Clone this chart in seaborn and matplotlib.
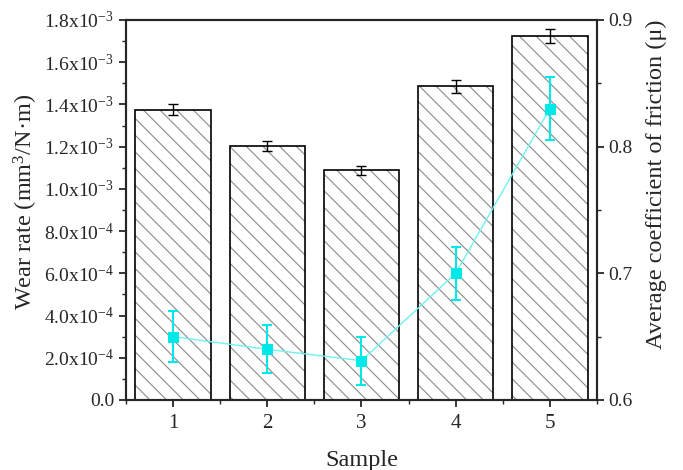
import math
import pandas as pd
import matplotlib
matplotlib.use("Agg")
import matplotlib.pyplot as plt
from matplotlib.ticker import MultipleLocator, FuncFormatter
import seaborn as sns

# values
samples = [1, 2, 3, 4, 5]
wear_rate = [1.375e-3, 1.203e-3, 1.088e-3, 1.486e-3, 1.723e-3]
wear_err = [0.027e-3, 0.024e-3, 0.021e-3, 0.031e-3, 0.033e-3]
cof = [0.650, 0.640, 0.631, 0.700, 0.830]
cof_err = [0.020, 0.019, 0.019, 0.021, 0.025]

SERIF = 'Liberation Serif'


def sci_formatter(v, pos):
    """
    Label like 1.2x10^-3, plain 0.0 at zero.
    """
    if abs(v) < 1e-12:
        return '0.0'
    e = int(math.floor(math.log10(abs(v)) + 1e-9))
    m = v / 10 ** e
    return f'{m:.1f}x10$^{{{e}}}$'


def main():
    sns.set_style('ticks')
    plt.rcParams['font.family'] = 'serif'
    plt.rcParams['font.serif'] = [SERIF]
    plt.rcParams['mathtext.fontset'] = 'custom'
    plt.rcParams['mathtext.rm'] = SERIF
    plt.rcParams['mathtext.it'] = SERIF + ':italic'
    plt.rcParams['mathtext.bf'] = SERIF + ':bold'
    plt.rcParams['hatch.linewidth'] = 0.8

    df = pd.DataFrame({'sample': samples, 'wear': wear_rate,
                       'wear_err': wear_err, 'cof': cof, 'cof_err': cof_err})

    fig = plt.figure(figsize=(6.83, 4.70), dpi=100)
    ax = fig.add_axes([0.1845, 0.149, 0.6895, 0.8085])

    # hatched fill, then black outline on top
    sns.barplot(data=df, x='sample', y='wear', native_scale=True,
                errorbar=None, color='white', edgecolor='#8a8a8a',
                hatch='\\\\', linewidth=0, saturation=1, ax=ax)
    sns.barplot(data=df, x='sample', y='wear', native_scale=True,
                errorbar=None, fill=False, color='black', linewidth=1.2,
                ax=ax)
    ax.errorbar(df['sample'], df['wear'], yerr=df['wear_err'], fmt='none',
                ecolor='black', elinewidth=1.0, capsize=3.5, capthick=1.0)

    ax.set_xlim(0.5, 5.5)
    ax.set_ylim(0, 1.8e-3)
    ax.xaxis.set_major_locator(MultipleLocator(1))
    ax.xaxis.set_minor_locator(MultipleLocator(0.5))
    ax.yaxis.set_major_locator(MultipleLocator(2e-4))
    ax.yaxis.set_minor_locator(MultipleLocator(1e-4))
    ax.yaxis.set_major_formatter(FuncFormatter(sci_formatter))
    ax.set_xlabel('Sample', fontsize=17.5, labelpad=12)
    ax.set_ylabel('Wear rate (mm$^{3}$/N·m)', fontsize=17.5)
    ax.yaxis.set_label_coords(-0.183, 0.52)

    # friction coefficient on the right axis
    ax2 = ax.twinx()
    sns.lineplot(data=df, x='sample', y='cof', color='#6ff2f2',
                 linewidth=1.0, marker='s', markersize=7,
                 markerfacecolor='#00e8e8', markeredgecolor='#00e8e8',
                 ax=ax2)
    ax2.errorbar(df['sample'], df['cof'], yerr=df['cof_err'], fmt='none',
                 ecolor='#00e8e8', elinewidth=1.5, capsize=3.5,
                 capthick=1.5)
    ax2.set_ylim(0.6, 0.9)
    ax2.yaxis.set_major_locator(MultipleLocator(0.1))
    ax2.yaxis.set_minor_locator(MultipleLocator(0.05))
    ax2.set_ylabel('Average coefficient of friction (μ)', fontsize=17.5)
    ax2.yaxis.set_label_coords(1.104, 0.568)

    for a in (ax, ax2):
        for sp in a.spines.values():
            sp.set_linewidth(1.5)
            sp.set_visible(True)
        a.tick_params(which='major', direction='out', length=5, width=1.3,
                      labelsize=14)
        a.tick_params(which='minor', direction='out', length=3, width=1.0)
    ax.tick_params(axis='x', which='major', labelsize=15, pad=5)
    ax.tick_params(axis='both', which='both', top=False, right=False)
    ax2.tick_params(axis='y', which='both', left=False, right=True)

    fig.savefig('out.png', dpi=100)


if __name__ == "__main__":
    main()
